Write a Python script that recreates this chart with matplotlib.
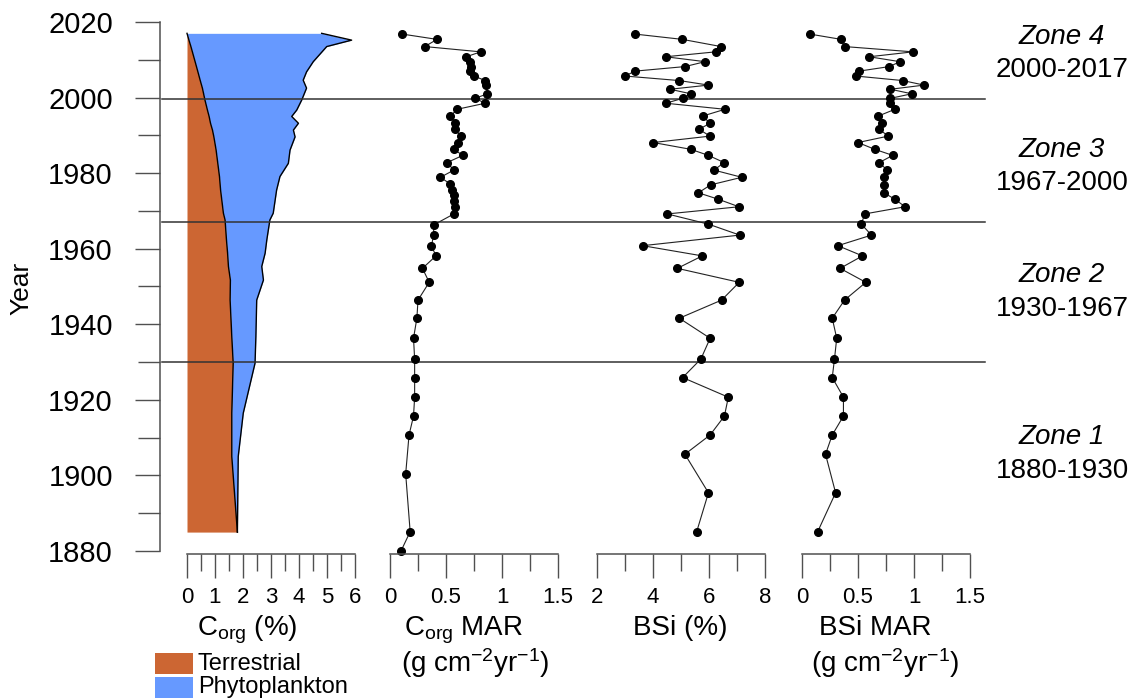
import matplotlib
matplotlib.use("Agg")
import matplotlib.pyplot as plt
from matplotlib.patches import Rectangle
from matplotlib.transforms import blended_transform_factory

plt.rcParams["font.family"] = ["Liberation Sans", "DejaVu Sans"]
plt.rcParams["mathtext.fontset"] = "custom"
plt.rcParams["mathtext.rm"] = "Liberation Sans"
plt.rcParams["mathtext.it"] = "Liberation Sans:italic"
plt.rcParams["mathtext.bf"] = "Liberation Sans:bold"

# Corg (%) split into terrestrial and phytoplankton parts
corg_year = [2017.0, 2015.2, 2013.5, 2009.5, 2006.8, 2004.6, 2002.5, 1999.4, 1996.7,
             1995.0, 1993.2, 1991.4, 1989.6, 1986.1, 1982.6, 1979.1, 1975.5, 1969.4,
             1967.6, 1962.3, 1958.8, 1955.3, 1951.7, 1946.4, 1936.7, 1929.7, 1916.5,
             1905.0, 1885.0]
terrestrial = [0.00, 0.07, 0.14, 0.29, 0.39, 0.47, 0.55, 0.64, 0.73, 0.79, 0.84, 0.91,
               0.96, 1.04, 1.10, 1.16, 1.20, 1.30, 1.36, 1.41, 1.45, 1.48, 1.55, 1.54,
               1.60, 1.65, 1.60, 1.60, 1.80]
corg_total = [4.81, 5.88, 4.99, 4.51, 4.27, 4.15, 4.27, 4.10, 3.92, 3.74, 3.98, 3.80,
              3.86, 3.68, 3.62, 3.32, 3.20, 3.08, 2.96, 2.85, 2.79, 2.67, 2.73, 2.49,
              2.46, 2.43, 2.01, 1.83, 1.80]

# Corg mass accumulation rate
cmar_year = [2016.8, 2015.4, 2013.5, 2012.1, 2010.8, 2009.5, 2008.2, 2007.0, 2005.7,
             2004.5, 2003.3, 2001.0, 1999.8, 1998.5, 1996.9, 1995.1, 1993.4, 1991.6,
             1989.8, 1988.1, 1986.3, 1984.7, 1982.8, 1980.8, 1978.9, 1977.1, 1975.5,
             1974.2, 1972.6, 1971.0, 1969.2, 1966.3, 1963.6, 1960.8, 1958.1, 1954.8,
             1951.1, 1946.4, 1941.6, 1936.3, 1930.8, 1925.9, 1920.7, 1915.7, 1910.7,
             1900.4, 1885.1, 1880.1]
cmar = [0.11, 0.42, 0.31, 0.81, 0.68, 0.71, 0.72, 0.71, 0.75, 0.85, 0.86, 0.87, 0.76,
        0.85, 0.60, 0.54, 0.58, 0.58, 0.63, 0.61, 0.57, 0.65, 0.51, 0.57, 0.45, 0.54,
        0.55, 0.57, 0.57, 0.58, 0.57, 0.39, 0.39, 0.37, 0.41, 0.29, 0.35, 0.25, 0.24,
        0.21, 0.22, 0.22, 0.22, 0.21, 0.17, 0.14, 0.18, 0.10]

# Biogenic silica
bsi_year = [2016.8, 2015.4, 2013.5, 2012.1, 2010.8, 2009.5, 2008.2, 2007.0, 2005.7,
            2004.5, 2003.3, 2002.2, 2001.0, 1999.8, 1998.5, 1996.9, 1995.1, 1993.2,
            1991.6, 1989.8, 1988.1, 1986.3, 1984.7, 1982.8, 1980.8, 1978.9, 1976.9,
            1974.8, 1973.1, 1971.1, 1969.2, 1966.5, 1963.6, 1960.8, 1958.1, 1954.8,
            1951.1, 1946.4, 1941.6, 1936.3, 1930.8, 1925.9, 1920.7, 1915.7, 1910.7,
            1905.6, 1895.4, 1885.1]
bsi = [3.36, 5.05, 6.43, 6.24, 4.45, 5.86, 5.14, 3.36, 3.00, 4.94, 5.98, 4.61, 5.35,
       5.06, 4.46, 6.57, 5.77, 6.04, 5.64, 6.04, 4.01, 5.35, 5.98, 6.54, 6.18, 7.17,
       6.06, 5.62, 6.33, 7.07, 4.51, 5.98, 7.10, 3.63, 5.76, 4.87, 7.08, 6.45, 4.94,
       6.04, 5.71, 5.06, 6.69, 6.55, 6.04, 5.14, 5.98, 5.56]
bsi_mar = [0.07, 0.35, 0.38, 0.99, 0.60, 0.875, 0.78, 0.51, 0.48, 0.90, 1.09, 0.79,
           0.98, 0.79, 0.79, 0.83, 0.68, 0.71, 0.69, 0.77, 0.50, 0.65, 0.81, 0.69, 0.76,
           0.73, 0.73, 0.73, 0.83, 0.92, 0.56, 0.53, 0.62, 0.32, 0.54, 0.34, 0.57, 0.38,
           0.27, 0.31, 0.29, 0.27, 0.37, 0.37, 0.27, 0.21, 0.30, 0.14]

zone_bounds = [1999.5, 1967, 1930]
zone_names = ["Zone 4", "Zone 3", "Zone 2", "Zone 1"]
zone_ranges = ["2000-2017", "1967-2000", "1930-1967", "1880-1930"]

W, H = 1142, 700
ORANGE = "#CC6633"
BLUE = "#6699FF"
SPINE = "#505050"


def px_rect(x0, x1, y_top=22, y_bot=554):
    return [x0 / W, 1 - y_bot / H, (x1 - x0) / W, (y_bot - y_top) / H]


def style_bottom(ax, lo, hi, majors, minors, labels):
    ax.patch.set_visible(False)
    for side in ["top", "right", "left"]:
        ax.spines[side].set_visible(False)
    ax.spines["bottom"].set_bounds(lo, hi)
    ax.spines["bottom"].set_color(SPINE)
    ax.spines["bottom"].set_linewidth(1.1)
    ax.set_xticks(majors, labels)
    ax.set_xticks(minors, minor=True)
    ax.tick_params(axis="x", which="major", length=17, width=1.0, color=SPINE,
                   labelsize=16, pad=7)
    ax.tick_params(axis="x", which="minor", length=12.5, width=1.0, color=SPINE)
    ax.set_ylim(1879.2, 2020)


fig = plt.figure(figsize=(W / 100, H / 100), dpi=100)

# panel 1: Corg (%)
ax1 = fig.add_axes(px_rect(160, 355))
ax1.set_xlim(-27 / 28, 6)
ax1.fill_betweenx(corg_year, 0, terrestrial, color=ORANGE, lw=0)
ax1.fill_betweenx(corg_year, terrestrial, corg_total, color=BLUE, lw=0)
ax1.plot(terrestrial, corg_year, color="black", lw=1.0)
ax1.plot(corg_total, corg_year, color="black", lw=1.0)
style_bottom(ax1, 0, 6, range(7), [i + 0.5 for i in range(6)],
             [str(i) for i in range(7)])
ax1.spines["left"].set_visible(True)
ax1.spines["left"].set_bounds(1880, 2020)
ax1.spines["left"].set_color(SPINE)
ax1.spines["left"].set_linewidth(1.1)
ax1.set_yticks(range(1880, 2021, 20))
ax1.set_yticks(range(1890, 2020, 20), minor=True)
ax1.tick_params(axis="y", which="major", length=18, width=1.0, color=SPINE,
                labelsize=21, pad=16)
ax1.tick_params(axis="y", which="minor", length=16, width=1.0, color=SPINE)

# panel 2: Corg MAR
ax2 = fig.add_axes(px_rect(390, 558))
ax2.set_xlim(0, 1.5)
ax2.plot(cmar, cmar_year, color="#222222", lw=0.8, marker="o", ms=5.5,
         mfc="black", mec="black", clip_on=False)
style_bottom(ax2, 0, 1.5, [0, 0.5, 1, 1.5], [0.25, 0.75, 1.25],
             ["0", "0.5", "1", "1.5"])
ax2.set_yticks([])

# panel 3: BSi (%)
ax3 = fig.add_axes(px_rect(597, 765))
ax3.set_xlim(2, 8)
ax3.plot(bsi, bsi_year, color="#222222", lw=0.8, marker="o", ms=5.5,
         mfc="black", mec="black", clip_on=False)
style_bottom(ax3, 2, 8, [2, 4, 6, 8], [3, 5, 7], ["2", "4", "6", "8"])
ax3.set_yticks([])

# panel 4: BSi MAR
ax4 = fig.add_axes(px_rect(802, 970))
ax4.set_xlim(0, 1.5)
ax4.plot(bsi_mar, bsi_year, color="#222222", lw=0.8, marker="o", ms=5.5,
         mfc="black", mec="black", clip_on=False)
style_bottom(ax4, 0, 1.5, [0, 0.5, 1, 1.5], [0.25, 0.75, 1.25],
             ["0", "0.5", "1", "1.5"])
ax4.set_yticks([])

# zone boundaries across all panels
trans = blended_transform_factory(fig.transFigure, ax1.transData)
for yb in zone_bounds:
    ax1.plot([162 / W, 985 / W], [yb, yb], transform=trans, color="#333333",
             lw=1.1, clip_on=False, zorder=5)

zone_y = [(37, 70), (150, 183), (275, 309), (437, 471)]
for name, rng, (y1, y2) in zip(zone_names, zone_ranges, zone_y):
    fig.text(1062 / W, 1 - y1 / H, name, fontsize=20, style="italic",
             ha="center", va="center")
    fig.text(1062 / W, 1 - y2 / H, rng, fontsize=20, ha="center", va="center")

fig.text(21 / W, 1 - 288 / H, "Year", fontsize=19, rotation=90,
         ha="center", va="center")

# axis titles
fig.text(247 / W, 1 - 635 / H, r"C$_{\mathrm{org}}$ (%)", fontsize=20,
         ha="center", va="baseline")
fig.text(464 / W, 1 - 635 / H, r"C$_{\mathrm{org}}$ MAR", fontsize=20,
         ha="center", va="baseline")
fig.text(475 / W, 1 - 672 / H, r"(g cm$^{\mathrm{-2}}$yr$^{\mathrm{-1}}$)",
         fontsize=20, ha="center", va="baseline")
fig.text(680 / W, 1 - 635 / H, "BSi (%)", fontsize=20, ha="center", va="baseline")
fig.text(875 / W, 1 - 635 / H, "BSi MAR", fontsize=20, ha="center", va="baseline")
fig.text(885 / W, 1 - 672 / H, r"(g cm$^{\mathrm{-2}}$yr$^{\mathrm{-1}}$)",
         fontsize=20, ha="center", va="baseline")

# legend
for (y0, y1), color, label in [((653, 674), ORANGE, "Terrestrial"),
                                ((677, 698), BLUE, "Phytoplankton")]:
    fig.add_artist(Rectangle((155 / W, 1 - y1 / H), 38 / W, (y1 - y0) / H,
                             transform=fig.transFigure, facecolor=color,
                             edgecolor="none"))
    fig.text(198 / W, 1 - (y0 + y1) / 2 / H, label, fontsize=17,
             ha="left", va="center")

fig.savefig("out.png", dpi=100)
